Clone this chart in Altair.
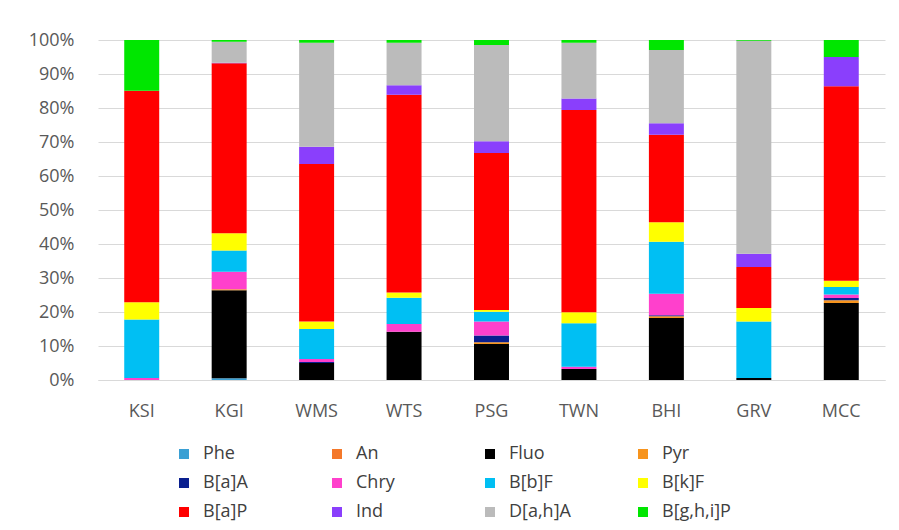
import altair as alt
import pandas as pd

categories = ["KSI", "KGI", "WMS", "WTS", "PSG", "TWN", "BHI", "GRV", "MCC"]
series = ["Phe", "An", "Fluo", "Pyr", "B[a]A", "Chry", "B[b]F", "B[k]F",
          "B[a]P", "Ind", "D[a,h]A", "B[g,h,i]P"]
colors = ["#3aa0d4", "#f4782a", "#000000", "#f7941d", "#0a1f8f", "#ff40cc",
          "#00bff3", "#ffff00", "#ff0000", "#8a3ffc", "#bbbbbb", "#00e600"]

phe = [0, 0.5, 0, 0, 0, 0, 0, 0, 0]
an = [0, 0, 0, 0, 0, 0, 0, 0, 0]
fluo = [0, 26.0, 5.0, 14.2, 10.6, 3.2, 18.2, 0.6, 22.6]
pyr = [0, 0.3, 0, 0, 0.5, 0, 0.5, 0, 0.8]
baa = [0, 0, 0.3, 0, 2.0, 0, 0.3, 0, 0.7]
chry = [0.6, 5.2, 0.9, 2.3, 4.1, 0.7, 6.3, 0, 1.0]
bbf = [17.2, 6.3, 8.8, 7.7, 2.9, 12.8, 15.3, 16.6, 2.2]
bkf = [5.1, 5.1, 2.2, 1.5, 0.5, 3.2, 5.7, 4.0, 1.8]
bap = [62.2, 50.2, 46.3, 58.2, 46.2, 59.5, 25.7, 12.0, 57.1]
ind = [0, 0.2, 5.1, 2.8, 3.4, 3.4, 3.4, 3.9, 8.6]
dah = [0, 6.2, 30.6, 12.5, 28.3, 16.4, 21.5, 62.7, 0]
bghi = [14.9, 0.5, 0.8, 0.8, 1.5, 0.8, 2.9, 0.2, 5.0]

values = [phe, an, fluo, pyr, baa, chry, bbf, bkf, bap, ind, dah, bghi]

rows = []
for si, (name, vals) in enumerate(zip(series, values)):
    for cat, v in zip(categories, vals):
        rows.append({"site": cat, "pah": name, "idx": si, "value": v})
df = pd.DataFrame(rows)

FONT = "Open Sans"

chart = alt.Chart(df).mark_bar().encode(
    x=alt.X("site:N", sort=categories,
            scale=alt.Scale(paddingInner=0.6, paddingOuter=0.3),
            axis=alt.Axis(title=None, labelAngle=0, ticks=False,
                          domainColor="#d9d9d9", labelPadding=22,
                          labelFontSize=18, labelColor="#595959",
                          labelFont=FONT)),
    y=alt.Y("value:Q", stack="normalize",
            scale=alt.Scale(domain=[0, 1]),
            axis=alt.Axis(title=None, format=".0%",
                          values=[i / 10 for i in range(11)],
                          domain=False, ticks=False, labelPadding=24,
                          gridColor="#d9d9d9", labelFontSize=18,
                          labelColor="#595959", labelFont=FONT)),
    color=alt.Color("pah:N", sort=series,
                    scale=alt.Scale(domain=series, range=colors),
                    legend=alt.Legend(title=None, orient="none",
                                      legendX=77, legendY=405,
                                      columns=4, direction="horizontal",
                                      symbolType="square", symbolSize=100,
                                      symbolStrokeWidth=0,
                                      labelFontSize=18, labelColor="#404040",
                                      labelFont=FONT, gridAlign="all",
                                      columnPadding=56, rowPadding=11,
                                      labelOffset=10)),
    order=alt.Order("idx:Q", sort="ascending"),
).properties(
    width=787, height=340,
    padding={"left": 20, "top": 23, "right": 5, "bottom": 5},
).configure_view(stroke=None)

chart.save("out.html", embed_options={"renderer": "svg", "actions": False})
